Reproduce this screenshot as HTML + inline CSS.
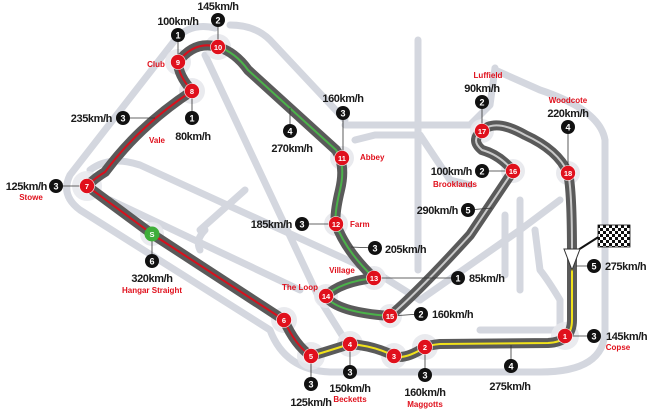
<!DOCTYPE html>
<html><head><meta charset="utf-8"><style>
html,body{margin:0;padding:0;background:#fff;}
svg{display:block;}
.sp{font-family:"Liberation Sans Narrow","Liberation Sans",sans-serif;font-weight:bold;font-size:11px;fill:#1a1a1a;letter-spacing:-0.4px;}
.rl{font-family:"Liberation Sans Narrow","Liberation Sans",sans-serif;font-weight:bold;font-size:8px;fill:#e0101c;}
.bn{font-family:"Liberation Sans",sans-serif;font-weight:bold;font-size:9px;fill:#fff;}
.rn{font-family:"Liberation Sans",sans-serif;font-weight:bold;font-size:7.5px;fill:#fff;}
</style></head><body>
<svg width="650" height="414" viewBox="0 0 650 414" xmlns="http://www.w3.org/2000/svg">
<g fill="none" stroke="#d4d7df" stroke-width="7" stroke-linecap="round" stroke-linejoin="round">
<path d="M215,28 Q190,22 175,40 L70,175 Q60,195 80,210 L270,330 Q285,370 330,372 L540,372 Q605,372 605,330 L605,140 Q600,110 540,90 L495,70"/>
<path d="M230,25 Q255,25 270,40 L345,120"/>
<path d="M205,55 L320,300 L345,340"/>
<path d="M90,170 Q110,155 140,165 L380,275 L420,300"/>
<path d="M110,200 L300,290"/>
<path d="M345,125 L470,125 L490,105 L495,68"/>
<path d="M355,140 L375,135 L420,135 L450,180 L470,185"/>
<path d="M418,40 L418,270"/>
<path d="M200,230 L245,190"/>
<path d="M200,250 Q195,240 205,230"/>
<path d="M480,330 L560,330 L560,300 Q548,280 540,270 L535,230"/>
<path d="M420,300 L520,230 L560,200"/>
<path d="M505,215 L505,275"/>
<path d="M520,200 L520,290"/>
</g>
<g fill="#e6e7ec" opacity="0.85">
<circle cx="218" cy="47" r="13"/><circle cx="178" cy="62" r="13"/><circle cx="192" cy="91" r="13"/>
<circle cx="87" cy="186" r="15"/><circle cx="152" cy="234" r="12"/><circle cx="284" cy="320" r="13"/>
<circle cx="311" cy="356" r="14"/><circle cx="350" cy="344" r="13"/><circle cx="394" cy="356" r="13"/>
<circle cx="425" cy="347" r="13"/><circle cx="565" cy="336" r="14"/><circle cx="342" cy="158" r="12"/>
<circle cx="336" cy="224" r="12"/><circle cx="374" cy="278" r="12"/><circle cx="326" cy="296" r="12"/>
<circle cx="390" cy="316" r="12"/><circle cx="513" cy="171" r="12"/><circle cx="482" cy="131" r="12"/><circle cx="568" cy="173" r="12"/>
</g>
<path d="M572,255 L572,320 Q572,342 548,343 L440,344 Q430,345 425,347 Q405,360 394,356 Q375,346 350,344 Q325,352 311,356 Q295,345 284,320 L152,234 L87,186 Q95,178 105,172 Q140,125 192,91 Q178,75 178,62 Q195,40 218,47 Q235,52 248,70 L336,150 Q346,165 340,190 Q334,215 336,224 Q345,250 374,278 Q340,282 326,296 Q335,312 390,316 Q420,290 470,235 L513,171 Q500,155 482,150 Q470,140 482,131 Q495,118 525,135 Q558,150 568,173 Q572,190 572,255" fill="none" stroke="#5a5a5a" stroke-width="10" stroke-linejoin="round"/>
<g fill="none" stroke-width="2" stroke-linejoin="round">
<path d="M572,262 L572,320 Q572,342 548,343 L440,344 Q430,345 425,347 Q405,360 394,356 Q375,346 350,344 Q325,352 311,356" stroke="#f1e21a"/>
<path d="M311,356 Q295,345 284,320 L152,234 L87,186 Q95,178 105,172 Q140,125 192,91 Q178,75 178,62 Q195,40 218,47" stroke="#d8101c"/>
<path d="M218,47 Q235,52 248,70 L336,150 Q346,165 340,190 Q334,215 336,224 Q345,250 374,278 Q340,282 326,296 Q335,312 390,316" stroke="#4bb24a"/>
<path d="M390,316 Q420,290 470,235 L513,171 Q500,155 482,150 Q470,140 482,131 Q495,118 525,135 Q558,150 568,173 Q572,190 572,250" stroke="#c9c9c9"/>
</g>
<g stroke="#333" stroke-width="0.8">
<line x1="218" y1="20" x2="218" y2="47"/><line x1="178" y1="35" x2="178" y2="62"/><line x1="192" y1="91" x2="192" y2="118"/>
<line x1="123" y1="118" x2="155" y2="118"/><line x1="56" y1="186" x2="87" y2="186"/><line x1="290" y1="108" x2="290" y2="131"/>
<line x1="343" y1="113" x2="343" y2="158"/><line x1="302" y1="224" x2="336" y2="224"/><line x1="351" y1="247" x2="375" y2="248"/>
<line x1="374" y1="278" x2="458" y2="278"/><line x1="390" y1="316" x2="421" y2="314"/><line x1="482" y1="171" x2="513" y2="171"/>
<line x1="468" y1="210" x2="492" y2="208"/><line x1="482" y1="102" x2="482" y2="131"/><line x1="568" y1="127" x2="568" y2="173"/>
<line x1="576" y1="266" x2="594" y2="266"/><line x1="565" y1="336" x2="594" y2="336"/><line x1="511" y1="345" x2="511" y2="366"/>
<line x1="425" y1="347" x2="425" y2="375"/><line x1="350" y1="344" x2="350" y2="372"/><line x1="311" y1="356" x2="311" y2="384"/>
<line x1="152" y1="234" x2="152" y2="261"/>
</g>
<line x1="578" y1="250" x2="600" y2="236" stroke="#111" stroke-width="2"/>
<defs><pattern id="ck" width="6" height="6" patternUnits="userSpaceOnUse"><rect width="6" height="6" fill="#fff"/><rect width="3" height="3" fill="#111"/><rect x="3" y="3" width="3" height="3" fill="#111"/></pattern></defs>
<rect x="598" y="225" width="32" height="22" fill="url(#ck)" stroke="#111" stroke-width="0.8"/>
<path d="M564,249 L580,249 L572,270 Z" fill="#fff" stroke="#333" stroke-width="1"/>
<g fill="#e0101c" stroke="#fff" stroke-width="0.6">
<circle cx="218" cy="47" r="7.5"/><circle cx="178" cy="62" r="7.5"/><circle cx="192" cy="91" r="7.5"/><circle cx="87" cy="186" r="7.5"/>
<circle cx="284" cy="320" r="7.5"/><circle cx="311" cy="356" r="7.5"/><circle cx="350" cy="344" r="7.5"/><circle cx="394" cy="356" r="7.5"/>
<circle cx="425" cy="347" r="7.5"/><circle cx="565" cy="336" r="7.5"/><circle cx="342" cy="158" r="7.5"/><circle cx="336" cy="224" r="7.5"/>
<circle cx="374" cy="278" r="7.5"/><circle cx="326" cy="296" r="7.5"/><circle cx="390" cy="316" r="7.5"/><circle cx="513" cy="171" r="7.5"/>
<circle cx="482" cy="131" r="7.5"/><circle cx="568" cy="173" r="7.5"/>
</g>
<circle cx="152" cy="234" r="7.5" fill="#3fae3a"/>
<g class="rn" text-anchor="middle">
<text x="218" y="50">10</text><text x="178" y="65">9</text><text x="192" y="94">8</text><text x="87" y="189">7</text>
<text x="284" y="323">6</text><text x="311" y="359">5</text><text x="350" y="347">4</text><text x="394" y="359">3</text>
<text x="425" y="350">2</text><text x="565" y="339">1</text><text x="342" y="161">11</text><text x="336" y="227">12</text>
<text x="374" y="281">13</text><text x="326" y="299">14</text><text x="390" y="319">15</text><text x="513" y="174">16</text>
<text x="482" y="134">17</text><text x="568" y="176">18</text><text x="152" y="237">S</text>
</g>
<g fill="#111">
<circle cx="218" cy="20" r="7"/><circle cx="178" cy="35" r="7"/><circle cx="192" cy="118" r="7"/><circle cx="123" cy="118" r="7"/>
<circle cx="56" cy="186" r="7"/><circle cx="290" cy="131" r="7"/><circle cx="343" cy="113" r="7"/><circle cx="302" cy="224" r="7"/>
<circle cx="375" cy="248" r="7"/><circle cx="458" cy="278" r="7"/><circle cx="421" cy="314" r="7"/><circle cx="482" cy="171" r="7"/>
<circle cx="468" cy="210" r="7"/><circle cx="482" cy="102" r="7"/><circle cx="568" cy="127" r="7"/><circle cx="594" cy="266" r="7"/>
<circle cx="594" cy="336" r="7"/><circle cx="511" cy="366" r="7"/><circle cx="425" cy="375" r="7"/><circle cx="350" cy="372" r="7"/>
<circle cx="311" cy="384" r="7"/><circle cx="152" cy="261" r="7"/>
</g>
<g class="bn" text-anchor="middle">
<text x="218" y="23.5">2</text><text x="178" y="38.5">1</text><text x="192" y="121.5">1</text><text x="123" y="121.5">3</text>
<text x="56" y="189.5">3</text><text x="290" y="134.5">4</text><text x="343" y="116.5">3</text><text x="302" y="227.5">3</text>
<text x="375" y="251.5">3</text><text x="458" y="281.5">1</text><text x="421" y="317.5">2</text><text x="482" y="174.5">2</text>
<text x="468" y="213.5">5</text><text x="482" y="105.5">2</text><text x="568" y="130.5">4</text><text x="594" y="269.5">5</text>
<text x="594" y="339.5">3</text><text x="511" y="369.5">4</text><text x="425" y="378.5">3</text><text x="350" y="375.5">3</text>
<text x="311" y="387.5">3</text><text x="152" y="264.5">6</text>
</g>
<g class="sp">
<text x="218" y="10" text-anchor="middle">145km/h</text>
<text x="178" y="25" text-anchor="middle">100km/h</text>
<text x="193" y="140" text-anchor="middle">80km/h</text>
<text x="112" y="122" text-anchor="end">235km/h</text>
<text x="47" y="190" text-anchor="end">125km/h</text>
<text x="292" y="152" text-anchor="middle">270km/h</text>
<text x="343" y="102" text-anchor="middle">160km/h</text>
<text x="292" y="228" text-anchor="end">185km/h</text>
<text x="385" y="253">205km/h</text>
<text x="469" y="282">85km/h</text>
<text x="432" y="318">160km/h</text>
<text x="472" y="175" text-anchor="end">100km/h</text>
<text x="458" y="214" text-anchor="end">290km/h</text>
<text x="482" y="92" text-anchor="middle">90km/h</text>
<text x="568" y="117" text-anchor="middle">220km/h</text>
<text x="605" y="270">275km/h</text>
<text x="606" y="340">145km/h</text>
<text x="510" y="390" text-anchor="middle">275km/h</text>
<text x="425" y="396" text-anchor="middle">160km/h</text>
<text x="350" y="392" text-anchor="middle">150km/h</text>
<text x="311" y="406" text-anchor="middle">125km/h</text>
<text x="152" y="282" text-anchor="middle">320km/h</text>
</g>
<g class="rl">
<text x="156" y="67" text-anchor="middle">Club</text>
<text x="157" y="143" text-anchor="middle">Vale</text>
<text x="31" y="200" text-anchor="middle">Stowe</text>
<text x="360" y="160">Abbey</text>
<text x="350" y="227">Farm</text>
<text x="342" y="273" text-anchor="middle">Village</text>
<text x="300" y="290" text-anchor="middle">The Loop</text>
<text x="455" y="187" text-anchor="middle">Brooklands</text>
<text x="488" y="78" text-anchor="middle">Luffield</text>
<text x="568" y="103" text-anchor="middle">Woodcote</text>
<text x="618" y="350" text-anchor="middle">Copse</text>
<text x="425" y="407" text-anchor="middle">Maggotts</text>
<text x="350" y="402" text-anchor="middle">Becketts</text>
<text x="152" y="293" text-anchor="middle">Hangar Straight</text>
</g>
</svg>
</body></html>
